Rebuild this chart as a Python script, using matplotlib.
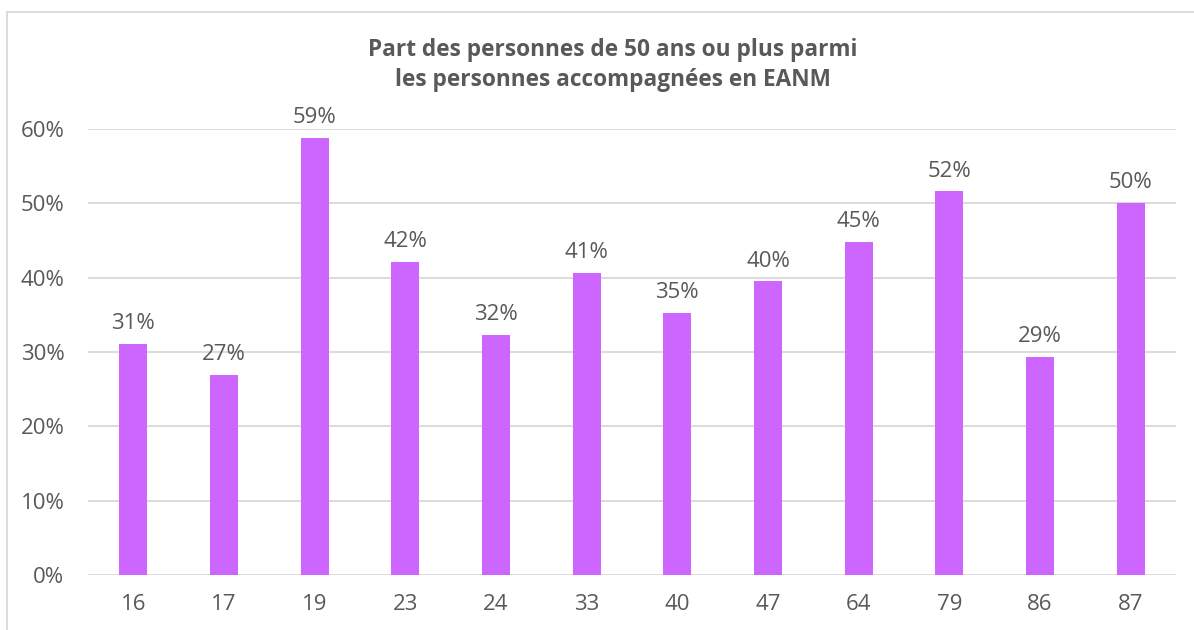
import matplotlib.pyplot as plt
from matplotlib.lines import Line2D
from matplotlib.ticker import PercentFormatter

departements = ["16", "17", "19", "23", "24", "33", "40", "47", "64", "79", "86", "87"]
part_50_plus = [31.1, 26.9, 58.8, 42.1, 32.3, 40.6, 35.3, 39.5, 44.8, 51.6, 29.3, 50.1]
labels = ["31%", "27%", "59%", "42%", "32%", "41%", "35%", "40%", "45%", "52%", "29%", "50%"]

TEXT = "#595959"
BAR = "#CC66FF"
GRID = "#D9D9D9"

plt.rcParams["font.family"] = ["Open Sans", "DejaVu Sans"]

fig = plt.figure(figsize=(11.94, 6.30), dpi=100)
ax = fig.add_axes([88 / 1194, 1 - 575 / 630, 1088 / 1194, 446 / 630])

x = range(len(departements))
bars = ax.bar(x, [v / 100 for v in part_50_plus], width=0.31, color=BAR, zorder=3)
for rect, lab in zip(bars, labels):
    ax.annotate(lab, (rect.get_x() + rect.get_width() / 2, rect.get_height()),
                xytext=(0, 7), textcoords="offset points", ha="center", va="bottom",
                fontsize=16, color=TEXT)

ax.set_xlim(-0.5, len(departements) - 0.5)
ax.set_ylim(0, 0.6)
ax.set_yticks([0, 0.1, 0.2, 0.3, 0.4, 0.5, 0.6])
ax.yaxis.set_major_formatter(PercentFormatter(1.0, decimals=0))
ax.set_xticks(list(x))
ax.set_xticklabels(departements)
ax.tick_params(axis="both", length=0, labelsize=16, colors=TEXT)
ax.tick_params(axis="x", pad=14)
ax.tick_params(axis="y", pad=17)
ax.grid(axis="y", color=GRID, linewidth=1.3, zorder=0)
ax.set_axisbelow(True)
for side in ["top", "right", "left", "bottom"]:
    ax.spines[side].set_visible(False)

fig.text(613 / 1194, 1 - 65 / 630, "Part des personnes de 50 ans ou plus parmi\nles personnes accompagnées en EANM",
         ha="center", va="center", fontsize=16.3, fontweight="bold", color=TEXT, linespacing=1.3)

# chart frame (left and top edges visible)
fig.add_artist(Line2D([7 / 1194, 7 / 1194], [0, 1 - 12 / 630], transform=fig.transFigure, color=GRID, linewidth=1.3))
fig.add_artist(Line2D([7 / 1194, 1], [1 - 12 / 630, 1 - 12 / 630], transform=fig.transFigure, color=GRID, linewidth=1.3))

fig.savefig("out.png", dpi=100)
